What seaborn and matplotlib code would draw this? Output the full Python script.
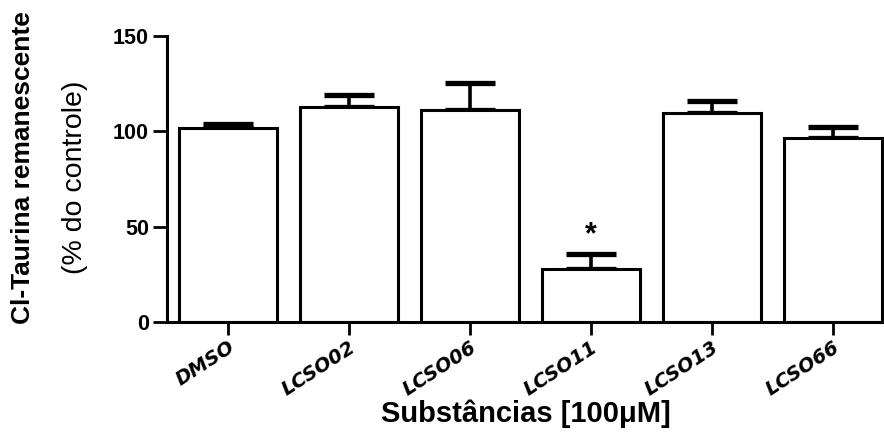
import matplotlib
matplotlib.use("Agg")
import matplotlib.pyplot as plt
import seaborn as sns

substancias = ["DMSO", "LCSO02", "LCSO06", "LCSO11", "LCSO13", "LCSO66"]
media = [101.9, 112.5, 111.0, 27.8, 109.6, 96.3]
erro = [1.8, 6.5, 14.5, 8.0, 6.3, 5.8]
significativo = [False, False, False, True, False, False]


def main():
    sns.set_style("ticks", {"text.color": "black", "axes.labelcolor": "black",
                            "xtick.color": "black", "ytick.color": "black",
                            "axes.edgecolor": "black"})
    plt.rcParams["font.family"] = ["Liberation Sans", "DejaVu Sans"]

    fig = plt.figure(figsize=(8.84, 4.48), dpi=100)
    ax = fig.add_axes([0.189, 0.281, 0.811, 0.639])

    sns.barplot(x=substancias, y=media, color="white", edgecolor="black",
                linewidth=2.2, width=0.81, ax=ax, zorder=2)
    for p in ax.patches:
        p.set_facecolor("white")

    ax.errorbar(range(len(media)), media, yerr=[[0] * len(erro), erro],
                fmt="none", ecolor="black", elinewidth=2.6, capsize=18,
                capthick=3.8, zorder=1)

    for i, (m, e, s) in enumerate(zip(media, erro, significativo)):
        if s:
            ax.text(i, m + e + 2, "*", ha="center", va="bottom",
                    fontsize=22, fontweight="bold", color="black")

    ax.set_ylim(0, 150)
    ax.set_xlim(-0.5, 5.42)
    ax.set_yticks([0, 50, 100, 150])
    ax.set_yticklabels(["0", "50", "100", "150"], fontsize=15.5,
                       fontweight="bold")
    ax.set_xticks(range(len(substancias)))
    ax.set_xticklabels(substancias, rotation=33, ha="right",
                       rotation_mode="anchor", fontsize=14,
                       fontweight="bold", fontstyle="italic",
                       family="DejaVu Sans")
    ax.tick_params(axis="y", width=2, length=10, pad=3)
    ax.tick_params(axis="x", width=2, length=9, pad=2)
    for side in ["left", "bottom"]:
        ax.spines[side].set_linewidth(2.2)
    sns.despine(ax=ax)

    ax.set_xlabel("Substâncias [100μM]", fontsize=21, fontweight="bold")
    ax.xaxis.set_label_coords(0.5, -0.27)
    ax.set_ylabel("")

    fig.text(0.026, 0.627, "Cl-Taurina remanescente", rotation=90,
             ha="center", va="center", fontsize=19, fontweight="bold")
    fig.text(0.085, 0.605, "(% do controle)", rotation=90,
             ha="center", va="center", fontsize=20.5)

    fig.savefig("out.png", dpi=100)


if __name__ == "__main__":
    main()
